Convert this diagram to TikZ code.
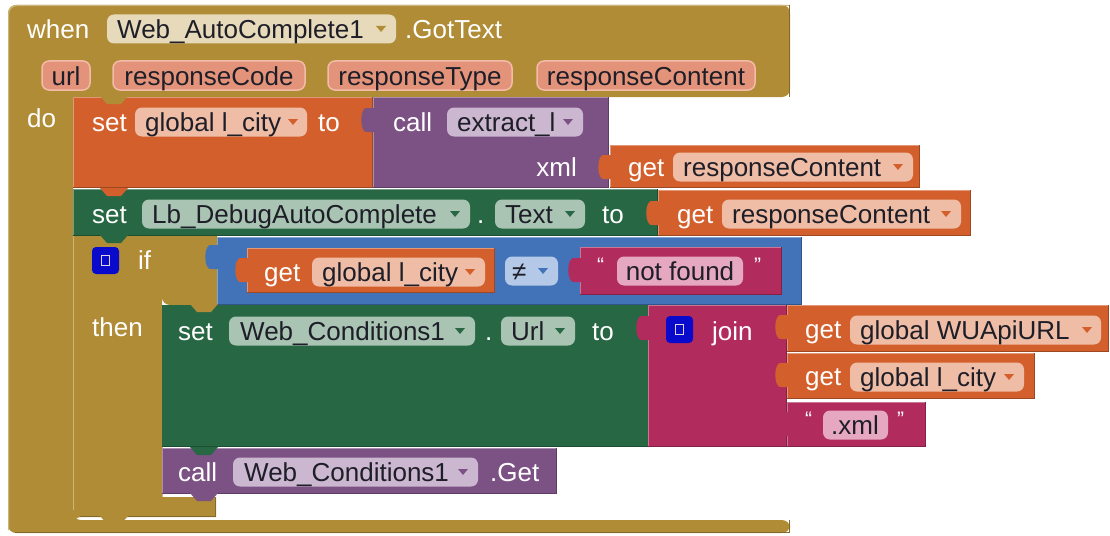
\documentclass[tikz,border=0pt]{standalone}
\usepackage{fontspec}
\setmainfont{Liberation Sans}
\definecolor{cOlive}{HTML}{B08C36}
\definecolor{cOrange}{HTML}{D3602C}
\definecolor{cPurple}{HTML}{7C5285}
\definecolor{cGreen}{HTML}{276744}
\definecolor{cBlue}{HTML}{4272B8}
\definecolor{cMag}{HTML}{B12C5D}
\definecolor{pOlive}{HTML}{E6DABA}
\definecolor{pParam}{HTML}{E4937B}
\definecolor{pParamB}{HTML}{F2BCA8}
\definecolor{pOrange}{HTML}{EFBCA5}
\definecolor{pPurple}{HTML}{CBB7D0}
\definecolor{pGreen}{HTML}{A9C4B3}
\definecolor{pBlue}{HTML}{B4C9E7}
\definecolor{pMag}{HTML}{E6A8C0}
\definecolor{ptext}{HTML}{1E1E28}
\definecolor{cMut}{HTML}{0A0ACC}
\tikzset{
  lbl/.style={text=white, font=\fontsize{26}{30}\selectfont, anchor=base west, inner sep=0pt},
  ptx/.style={text=ptext, font=\fontsize{26}{30}\selectfont, anchor=base west, inner sep=0pt},
  qt/.style={text=white, font=\fontsize{21}{24}\selectfont, anchor=base west, inner sep=0pt},
}
% block rectangle with light top/left edge and dark bottom/right edge
\newcommand\blk[5]{%
  \fill[#1] (#2,#3) rectangle (#4,#5);
  \draw[#1!65!white, line width=1.2pt] (#2+0.6,#5) -- (#2+0.6,#3+0.6) -- (#4,#3+0.6);
  \draw[#1!75!black, line width=1pt] (#4-0.5,#3) -- (#4-0.5,#5-0.5) -- (#2,#5-0.5);}
% statement tab (below a block), in colour #1, left x #2, top y #3
\newcommand\stab[3]{\fill[#1] (#2,#3-1) -- (#2+28,#3-1) -- (#2+21,#3+7) -- (#2+7,#3+7) -- cycle;}
% value knob on left edge x #2, top y #3
\newcommand\knob[3]{\fill[#1] (#2+1,#3) -- (#2-5,#3) .. controls (#2-14,#3-3) and (#2-14,#3+27) .. (#2-5,#3+24) -- (#2+1,#3+24) -- cycle;}
% pill x1 x2 yc colour
\newcommand\pill[4]{\fill[#4, rounded corners=7pt] (#1,#3-14.5) rectangle (#2,#3+14.5);}
% dropdown arrow
\newcommand\dd[3]{\fill[#3] (#1-5,#2-3) -- (#1+5,#2-3) -- (#1,#2+3) -- cycle;}
% mutator icon
\newcommand\mut[2]{\fill[cMut, rounded corners=4pt] (#1,#2) rectangle (#1+27,#2+27);
  \draw[pPurple!60!white, line width=1.2pt] (#1+9.5,#2+8.5) rectangle (#1+17.5,#2+18.5);}
\begin{document}
\begin{tikzpicture}[x=1pt,y=-1pt]
\useasboundingbox (0,0) rectangle (1110,535);
% ---------------- event block
\fill[cOlive, rounded corners=8pt] (8,533) -- (8,5) -- (790,5) -- (790,97) -- (73,97) -- (73,520) -- (790,520) -- (790,533) -- cycle;
\draw[cOlive!65!white, line width=1.2pt, rounded corners=8pt] (8.6,530) -- (8.6,5.6) -- (790,5.6);
\draw[cOlive!75!black, line width=1pt] (789.5,5) -- (789.5,97);
\draw[cOlive!75!black, line width=1pt] (789.5,520) -- (789.5,532.5) -- (15,532.5);
\node[lbl] (when) at (27,38) {when};
\pill{107}{396}{29}{pOlive}
\node[ptx] (evcomp) at (117,38) {Web\_AutoComplete1};
\dd{381}{29}{cOlive}
\node[lbl] (gottext) at (405,38) {.GotText};
\fill[pParam, draw=pParamB, line width=1.5pt, rounded corners=7pt] (42,61) rectangle (90,90);
\node[ptx, anchor=base] (purl) at (66,85) {url};
\fill[pParam, draw=pParamB, line width=1.5pt, rounded corners=7pt] (113,61) rectangle (305,90);
\node[ptx, anchor=base] (pcode) at (209,85) {responseCode};
\fill[pParam, draw=pParamB, line width=1.5pt, rounded corners=7pt] (328,61) rectangle (512,90);
\node[ptx, anchor=base] (ptype) at (420,85) {responseType};
\fill[pParam, draw=pParamB, line width=1.5pt, rounded corners=7pt] (537,61) rectangle (755,90);
\node[ptx, anchor=base] (pcont) at (646,85) {responseContent};
\node[lbl] (do) at (27,127) {do};
% ---------------- set global l_city
\blk{cOrange}{73}{97}{373}{188}
\stab{cOlive}{100}{97}
\node[lbl] (set1) at (92,131) {set};
\pill{135}{307}{122}{pOrange}
\node[ptx] (v1) at (145,131) {global l\_city};
\dd{293}{122}{cOrange}
\node[lbl] (to1) at (318,131) {to};
\blk{cPurple}{373}{97}{609}{188}
\knob{cPurple}{373}{108}
\node[lbl] (call1) at (393,131) {call};
\pill{447}{583}{122}{pPurple}
\node[ptx] (proc) at (457,131) {extract\_l};
\dd{568}{122}{cPurple}
\node[lbl, anchor=base east] (xml) at (577,176) {xml};
\blk{cOrange}{610}{145}{920}{188}
\knob{cOrange}{610}{155}
\node[lbl] (get1) at (628,176) {get};
\pill{673}{913}{167}{pOrange}
\node[ptx] (rc1) at (683,176) {responseContent};
\dd{898}{167}{cOrange}
% ---------------- set Lb text
\blk{cGreen}{73}{189}{658}{236}
\stab{cOrange}{100}{189}
\node[lbl] (set2) at (92,223) {set};
\pill{142}{470}{214}{pGreen}
\node[ptx] (lb) at (152,223) {Lb\_DebugAutoComplete};
\dd{455}{214}{cGreen}
\node[lbl] (dot2) at (477,223) {.};
\pill{495}{585}{214}{pGreen}
\node[ptx] (txt) at (505,223) {Text};
\dd{570}{214}{cGreen}
\node[lbl] (to2) at (602,223) {to};
\blk{cOrange}{658}{190}{971}{236}
\knob{cOrange}{658}{201}
\node[lbl] (get2) at (677,223) {get};
\pill{722}{961}{214}{pOrange}
\node[ptx] (rc2) at (732,223) {responseContent};
\dd{946}{214}{cOrange}
% ---------------- if block
\fill[cOlive] (73,236) -- (217,236) -- (217,305) -- (170,305) arc[start angle=90, end angle=180, radius=8] -- (162,497) -- (216,497) -- (216,517) -- (81,517) arc[start angle=270, end angle=180, radius=8] -- cycle;
\draw[cOlive!65!white, line width=1.2pt] (73.6,510) -- (73.6,236);
\draw[cOlive!65!white, line width=1.2pt] (162.6,497) -- (162.6,313);
\draw[cOlive!75!black, line width=1pt] (215.5,497) -- (215.5,516.5) -- (80,516.5);
\stab{cGreen}{100}{236}
\mut{92}{247}
\node[lbl] (if) at (138,269) {if};
\node[lbl] (then) at (92,336) {then};
\blk{cBlue}{217}{237}{802}{305}
\knob{cBlue}{217}{245}
\blk{cOrange}{247}{248}{495}{293}
\knob{cOrange}{247}{258}
\node[lbl] (get3) at (264,281) {get};
\pill{312}{485}{272}{pOrange}
\node[ptx] (v3) at (322,281) {global l\_city};
\dd{470}{272}{cOrange}
\pill{505}{558}{271}{pBlue}
\node[ptx] (neq) at (512,280) {≠};
\dd{543}{271}{cBlue}
\blk{cMag}{580}{247}{782}{295}
\knob{cMag}{580}{258}
\node[qt] (q1) at (597,272) {“};
\pill{617}{743}{271}{pMag}
\node[ptx, anchor=base] (nf) at (680,280) {not found};
\node[qt] (q2) at (754,272) {”};
% ---------------- set Web_Conditions1.Url
\fill[cGreen] (162,305) rectangle (650,447);
\draw[cGreen!75!black, line width=1pt] (162,446.5) -- (650,446.5);
\stab{cOlive}{190}{305}
\node[lbl] (set3) at (178,340) {set};
\pill{229}{475}{331}{pGreen}
\node[ptx] (wc1) at (240,340) {Web\_Conditions1};
\dd{460}{331}{cGreen}
\node[lbl] (dot3) at (485,340) {.};
\pill{501}{575}{331}{pGreen}
\node[ptx] (url) at (511,340) {Url};
\dd{560}{331}{cGreen}
\node[lbl] (to3) at (592,340) {to};
\blk{cMag}{648}{305}{787}{447}
\knob{cMag}{648}{316}
\mut{666}{316}
\node[lbl] (join) at (712,340) {join};
\blk{cOrange}{787}{305}{1109}{352}
\knob{cOrange}{787}{315}
\node[lbl] (get4) at (805,338) {get};
\pill{850}{1101}{330}{pOrange}
\node[ptx] (wu) at (860,339) {global WUApiURL};
\dd{1087}{330}{cOrange}
\blk{cOrange}{787}{353}{1035}{399}
\knob{cOrange}{787}{363}
\node[lbl] (get5) at (805,385) {get};
\pill{850}{1024}{377}{pOrange}
\node[ptx] (v5) at (860,386) {global l\_city};
\dd{1009}{377}{cOrange}
\blk{cMag}{787}{402}{926}{447}
\knob{cMag}{787}{412}
\node[qt] (q3) at (805,426) {“};
\pill{823}{888}{425}{pMag}
\node[ptx, anchor=base] (xmls) at (855,434) {.xml};
\node[qt] (q4) at (897,426) {”};
% ---------------- call Web_Conditions1.Get
\blk{cPurple}{162}{448}{557}{494}
\stab{cGreen}{190}{448}
\stab{cPurple}{190}{494}
\node[lbl] (call2) at (178,481) {call};
\pill{233}{478}{472}{pPurple}
\node[ptx] (wc2) at (244,481) {Web\_Conditions1};
\dd{463}{472}{cPurple}
\node[lbl] (get6) at (490,481) {.Get};
\stab{cOlive}{100}{517}
\end{tikzpicture}
\end{document}
